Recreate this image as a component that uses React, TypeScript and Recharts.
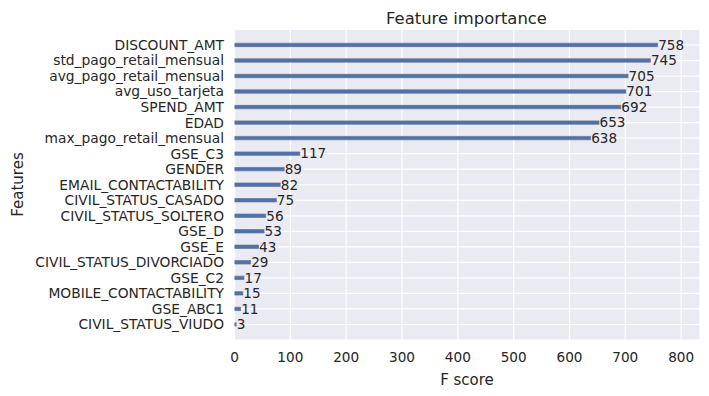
import React from "react";
import { BarChart, Bar, XAxis, YAxis, CartesianGrid, LabelList } from "recharts";

const features = [
  "DISCOUNT_AMT",
  "std_pago_retail_mensual",
  "avg_pago_retail_mensual",
  "avg_uso_tarjeta",
  "SPEND_AMT",
  "EDAD",
  "max_pago_retail_mensual",
  "GSE_C3",
  "GENDER",
  "EMAIL_CONTACTABILITY",
  "CIVIL_STATUS_CASADO",
  "CIVIL_STATUS_SOLTERO",
  "GSE_D",
  "GSE_E",
  "CIVIL_STATUS_DIVORCIADO",
  "GSE_C2",
  "MOBILE_CONTACTABILITY",
  "GSE_ABC1",
  "CIVIL_STATUS_VIUDO",
];
const scores = [758, 745, 705, 701, 692, 653, 638, 117, 89, 82, 75, 56, 53, 43, 29, 17, 15, 11, 3];
const xTicks = [0, 100, 200, 300, 400, 500, 600, 700, 800];

const data = features.map((f, i) => ({ name: f, score: scores[i] }));
const xMax = Math.max(...scores) * 1.1;

const FONT = "'DejaVu Sans', sans-serif";
const TXT = "#262626";

export default function App() {
  return (
    <div style={{ position: "absolute", left: 0, top: 0, width: 709, height: 396, background: "#fff" }}>
      <BarChart
        width={709}
        height={396}
        data={data}
        layout="vertical"
        margin={{ top: 29.5, right: 9, bottom: 0, left: 0 }}
        style={{ fontFamily: FONT }}
      >
        <CartesianGrid stroke="#ffffff" strokeWidth={1.2} fill="#EAEAF2" />
        <XAxis
          type="number"
          domain={[0, xMax]}
          ticks={xTicks}
          allowDataOverflow
          axisLine={false}
          tickLine={false}
          tickSize={0}
          tickMargin={12}
          height={56}
          tick={{ fill: TXT, fontSize: 13.6, fontFamily: FONT }}
        />
        <YAxis
          type="category"
          dataKey="name"
          width={234.5}
          axisLine={false}
          tickLine={false}
          tickSize={0}
          tickMargin={10.5}
          interval={0}
          padding={{ top: 7.75, bottom: 7.75 }}
          tick={{ fill: TXT, fontSize: 13.8, fontFamily: FONT }}
        />
        <Bar
          dataKey="score"
          fill="#4c72b0"
          stroke="#66728a"
          strokeWidth={0.7}
          barSize={3.4}
          isAnimationActive={false}
        >
          <LabelList
            dataKey="score"
            position="right"
            offset={0.5}
            style={{ fill: TXT, fontSize: 13.6, fontFamily: FONT }}
          />
        </Bar>
        <text x={466.5} y={24} textAnchor="middle" fill={TXT} fontSize={16.4} fontFamily={FONT}>
          Feature importance
        </text>
        <text x={467} y={385} textAnchor="middle" fill={TXT} fontSize={15} fontFamily={FONT}>
          F score
        </text>
        <text
          x={23}
          y={184.5}
          textAnchor="middle"
          fill={TXT}
          fontSize={15}
          fontFamily={FONT}
          transform="rotate(-90 23 184.5)"
        >
          Features
        </text>
      </BarChart>
    </div>
  );
}
